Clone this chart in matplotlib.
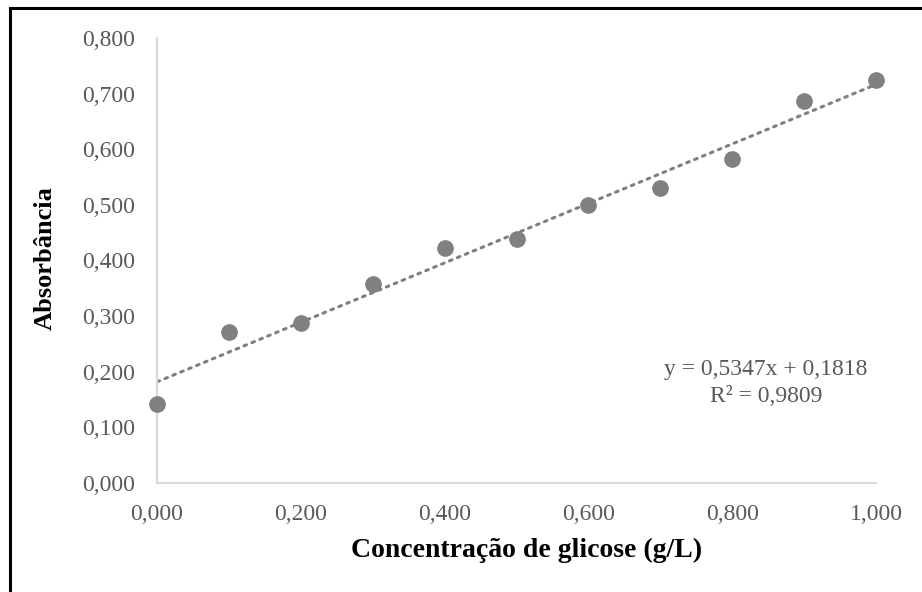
import numpy as np
import matplotlib.pyplot as plt
from matplotlib.lines import Line2D
from matplotlib.ticker import FuncFormatter

# glucose calibration curve
conc = [0.0, 0.1, 0.2, 0.3, 0.4, 0.5, 0.6, 0.7, 0.8, 0.9, 1.0]
absorb = [0.142, 0.272, 0.287, 0.357, 0.423, 0.438, 0.500, 0.531, 0.582, 0.686, 0.725]
slope = 0.5347
intercept = 0.1818
r2 = 0.9809

plt.rcParams['font.family'] = ['Liberation Serif', 'DejaVu Serif']

fig = plt.figure(figsize=(9.22, 5.92), dpi=100)
ax = fig.add_axes([157/922, 1 - 483/592, (876 - 157)/922, (483 - 38)/592])

x_fit = np.array([conc[0], conc[-1]])
ax.plot(x_fit, slope * x_fit + intercept, color='#7f7f7f', lw=2.2,
        linestyle=(0, (0.9, 1.9)), dash_capstyle='round', zorder=2)
ax.plot(conc, absorb, 'o', color='#808080', markersize=11, zorder=3, clip_on=False)

ax.set_xlim(0, 1.0)
ax.set_ylim(0, 0.8)
ax.set_xticks(np.arange(0, 1.01, 0.2))
ax.set_yticks(np.arange(0, 0.81, 0.1))
fmt = FuncFormatter(lambda v, p: f"{v:.3f}".replace('.', ','))
ax.xaxis.set_major_formatter(fmt)
ax.yaxis.set_major_formatter(fmt)
ax.tick_params(length=0, labelsize=17, labelcolor='#595959')
ax.tick_params(axis='x', pad=15)
ax.tick_params(axis='y', pad=16)

for s in ['top', 'right']:
    ax.spines[s].set_visible(False)
for s in ['left', 'bottom']:
    ax.spines[s].set_color('#d9d9d9')
    ax.spines[s].set_linewidth(1.5)

fig.text(527/922, 1 - 550/592, 'Concentração de glicose (g/L)', ha='center', va='center',
         fontsize=20, fontweight='bold')
fig.text(45/922, 1 - 258/592, 'Absorbância', ha='center', va='center', rotation=90,
         fontsize=19, fontweight='bold')

eq = f"y = {slope:.4f}x + {intercept:.4f}".replace('.', ',')
r2_txt = f"R² = {r2:.4f}".replace('.', ',')
fig.text(766/922, 1 - 369/592, eq, ha='center', va='center', fontsize=17, color='#595959')
fig.text(766/922, 1 - 397/592, r2_txt, ha='center', va='center', fontsize=17, color='#595959')

# chart frame (only top and left edges visible in the crop)
fig.add_artist(Line2D([10/922, 1], [1 - 8/592, 1 - 8/592], color='black', lw=2.2))
fig.add_artist(Line2D([10/922, 10/922], [0, 1 - 8/592], color='black', lw=2.2))

fig.savefig('out.png', dpi=100)
